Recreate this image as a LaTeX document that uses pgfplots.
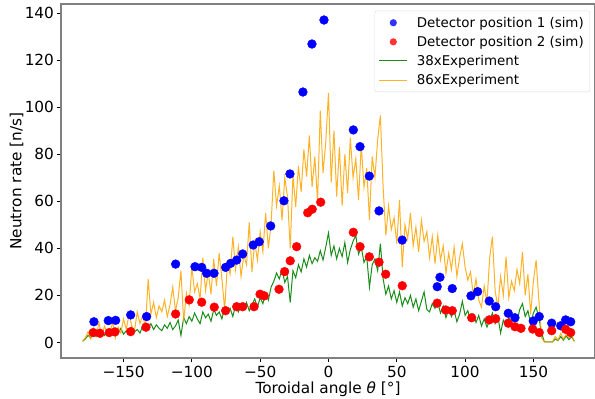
\documentclass[border=0pt]{standalone}
\usepackage{pgfplots}
\pgfplotsset{compat=1.18}
\usepackage{pgfplotstable}
\usepackage{fontspec}
\setmainfont{DejaVu Sans}

\pgfplotstableread{
x g o
-180 0.5 0.5
-178 1.5 2.0
-176 3.0 4.5
-174 2.0 1.5
-172 4.0 6.0
-170 2.5 3.0
-168 3.5 8.5
-166 5.0 2.5
-164 3.0 7.0
-162 4.5 4.0
-160 3.0 3.5
-158 5.5 9.0
-156 3.5 2.0
-154 4.0 6.5
-152 6.0 4.0
-150 3.5 10.0
-148 5.0 5.5
-146 4.0 12.0
-144 6.5 7.0
-142 4.5 5.0
-140 5.5 13.0
-138 4.0 8.0
-136 7.0 11.5
-134 5.0 6.5
-132 6.0 27.0
-130 8.0 12.0
-128 5.5 17.0
-126 7.5 10.5
-124 6.0 15.5
-122 5.0 13.0
-120 7.5 18.0
-118 6.0 11.0
-116 8.5 16.0
-114 5.5 23.5
-112 7.0 13.5
-110 9.5 19.0
-108 3.0 30.5
-106 10.5 9.0
-104 8.0 21.0
-102 11.0 16.0
-100 9.0 32.0
-98 12.5 21.5
-96 10.0 25.0
-94 8.0 18.5
-92 13.0 36.0
-90 10.5 22.0
-88 12.0 30.0
-86 9.0 20.5
-84 14.0 35.5
-82 11.5 24.0
-80 13.0 38.0
-78 10.0 27.0
-76 15.0 14.0
-74 12.5 33.5
-72 14.5 29.0
-70 11.0 45.0
-68 16.0 31.0
-66 13.0 40.5
-64 15.5 28.0
-62 14.0 37.0
-60 17.0 33.0
-58 13.5 51.0
-56 16.0 30.0
-54 18.5 42.5
-52 15.0 35.0
-50 19.0 47.0
-48 16.5 38.5
-46 21.0 55.0
-44 18.0 40.0
-42 23.5 50.5
-40 26.0 73.0
-38 29.5 58.0
-36 27.0 66.5
-34 31.0 52.0
-32 25.5 70.0
-30 28.0 62.0
-28 17.0 40.0
-26 30.5 71.0
-24 27.5 57.5
-22 33.0 75.0
-20 30.0 64.0
-18 35.5 82.0
-16 32.0 70.5
-14 37.0 88.0
-12 33.5 66.0
-10 36.0 79.0
-8 34.5 60.0
-6 39.0 98.5
-4 35.0 72.0
-2 40.5 85.0
0 46.5 106.0
2 37.0 68.0
4 41.0 90.0
6 35.5 62.0
8 40.0 83.0
10 36.5 58.0
12 42.5 80.0
14 34.0 63.5
16 39.5 87.0
18 43.0 70.0
20 45.5 78.0
22 37.5 60.5
24 40.5 84.0
26 34.0 66.0
28 36.5 74.0
30 23.5 52.0
32 33.0 79.0
34 35.5 70.0
36 30.5 86.0
38 42.0 96.5
40 27.0 66.0
42 20.5 45.5
44 24.0 58.0
46 18.5 48.0
48 22.0 53.0
50 17.0 42.0
52 21.5 60.5
54 15.5 32.0
56 19.0 50.0
58 16.5 44.0
60 20.0 55.0
62 15.0 41.0
64 18.5 49.0
66 13.5 38.5
68 17.5 52.0
70 21.5 43.0
72 14.0 47.0
74 13.0 36.0
76 16.5 45.0
78 14.5 33.5
80 17.0 45.5
82 12.5 35.0
84 15.5 41.0
86 10.5 29.5
88 14.0 38.0
90 11.0 31.0
92 13.5 40.5
94 8.8 28.0
96 12.0 36.0
98 17.5 42.0
100 11.5 32.0
102 13.5 26.5
104 9.5 30.0
106 12.0 20.0
108 8.5 27.0
110 11.5 18.0
112 7.0 15.0
114 10.0 24.0
116 6.5 17.0
118 9.5 36.0
120 12.5 45.0
122 8.0 22.0
124 11.0 15.0
126 4.0 28.0
128 9.5 20.0
130 7.0 36.5
132 10.5 19.0
134 8.5 26.0
136 12.0 22.0
138 9.0 31.0
140 14.0 25.0
142 16.5 38.5
144 11.0 20.0
146 13.5 29.0
148 8.0 12.0
150 12.5 26.0
152 15.0 35.0
154 10.5 18.0
156 4.0 2.0
158 0.3 0.3
160 0.2 0.2
162 0.3 0.3
164 0.2 0.2
166 1.5 2.5
168 0.8 1.0
170 2.5 3.8
172 1.0 1.5
174 2.8 3.5
176 1.2 2.0
178 2.5 3.0
180 0.5 0.5
}\expdata

\pgfplotstableread{
x y
-171.7 8.8
-161.2 9.3
-155.8 9.4
-144.8 11.7
-133.1 11.0
-111.9 33.3
-97.7 32.2
-92.8 31.9
-89.2 29.4
-83.8 29.4
-75.3 31.9
-71.6 33.6
-67.2 35.0
-62.8 37.6
-55.1 41.4
-50.7 42.8
-42.3 49.5
-32.6 60.2
-28.2 71.6
-18.7 106.4
-12.1 126.8
-3.3 137.0
18.2 90.3
23.1 83.2
29.9 70.7
37.0 55.9
54.0 43.5
81.6 27.7
79.6 23.7
90.6 22.9
104.3 19.8
109.2 21.6
117.7 17.6
122.4 15.2
131.6 12.4
136.5 10.5
149.9 9.1
154.3 11.0
163.4 8.2
170.0 7.1
173.6 9.6
177.3 8.8
}\simone

\pgfplotstableread{
x y
-172.2 4.2
-167.3 3.9
-160.5 4.2
-156.3 4.5
-144.8 4.6
-133.6 6.5
-111.9 12.1
-101.9 18.1
-92.8 17.1
-83.6 15.0
-75.3 13.5
-67.2 15.2
-62.8 15.2
-54.5 15.2
-50.1 20.5
-47.0 19.8
-36.2 22.6
-32.1 30.1
-28.0 34.7
-23.3 40.7
-15.2 55.1
-11.9 56.6
-5.7 59.6
18.2 46.8
23.1 40.7
29.9 36.4
37.0 34.1
41.9 29.0
54.0 24.1
79.6 16.7
85.8 13.8
90.6 13.5
104.8 10.5
117.7 9.6
122.4 10.1
131.6 8.2
136.5 6.7
140.9 6.0
149.5 5.7
154.3 4.2
163.4 5.0
173.6 5.6
177.3 4.2
}\simtwo

\definecolor{mplgreen}{RGB}{0,128,0}
\definecolor{mplorange}{RGB}{255,165,0}

\begin{document}
\begin{tikzpicture}
\path[use as bounding box] (0,0) rectangle (595pt,399pt);
\begin{axis}[
  at={(61pt,41pt)}, anchor=south west,
  scale only axis, width=534pt, height=354pt,
  xmin=-195.8, xmax=195.1, ymin=-6.6, ymax=143.8,
  axis line style={draw=gray, line width=1.1pt},
  tick style={black, line width=0.8pt},
  tick align=outside, major tick length=3.5pt,
  xtick={-150,-100,-50,0,50,100,150},
  xticklabels={−150,−100,−50,0,50,100,150},
  ytick={0,20,40,60,80,100,120,140},
  /pgf/number format/assume math mode=true,
  tick label style={font=\fontsize{15.3}{18}\selectfont},
  xticklabel style={yshift=-1.5pt},
  xtick pos=bottom, ytick pos=left,
  label style={font=\fontsize{15.3}{18}\selectfont},
  xlabel={Toroidal angle {\itshape θ} [°]},
  ylabel={Neutron rate [n/s]},
  xlabel style={at={(axis description cs:0.5,-0.087)}, anchor=center},
  ylabel style={at={(axis description cs:-0.083,0.5)}, anchor=center},
  legend style={at={(axis description cs:0.9906,0.981)}, anchor=north east,
    draw=gray!30, rounded corners=2pt, fill=white, fill opacity=0.8, text opacity=1,
    font=\fontsize{13.4}{16}\selectfont, row sep=3.4pt, inner xsep=4pt, inner ysep=4pt,
    cells={anchor=west}},
  legend cell align=left,
]
\addplot[only marks, mark=*, mark size=4.4pt, mark options={draw=blue, fill=blue},
  legend image code/.code={\node[draw=none,fill=none,inner sep=0pt] at (34pt,0pt) {}; \fill[blue, draw=none] (14pt,0pt) circle (3.6pt);}]
  table[x=x,y=y] {\simone};
\addlegendentry{Detector position 1 (sim)}
\addplot[only marks, mark=*, mark size=4.4pt, mark options={draw=red, fill=red},
  legend image code/.code={\node[draw=none,fill=none,inner sep=0pt] at (34pt,0pt) {}; \fill[red, draw=none] (14pt,0pt) circle (3.6pt);}]
  table[x=x,y=y] {\simtwo};
\addlegendentry{Detector position 2 (sim)}
\addplot[mplgreen, line width=1pt, no marks, opacity=0.9,
  legend image code/.code={\node[draw=none,fill=none,inner sep=0pt] at (34pt,0pt) {}; \draw[mplgreen, line width=1pt] (0pt,0pt) -- (28pt,0pt);}]
  table[x=x,y=g] {\expdata};
\addlegendentry{38xExperiment}
\addplot[mplorange, line width=1pt, no marks, opacity=0.85,
  legend image code/.code={\node[draw=none,fill=none,inner sep=0pt] at (34pt,0pt) {}; \draw[mplorange, line width=1pt] (0pt,0pt) -- (28pt,0pt);}]
  table[x=x,y=o] {\expdata};
\addlegendentry{86xExperiment}
\end{axis}
\end{tikzpicture}
\end{document}
